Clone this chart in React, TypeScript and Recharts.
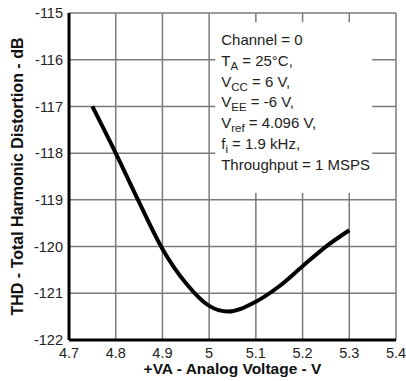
import React from 'react';
import {
  LineChart,
  Line,
  XAxis,
  YAxis,
  CartesianGrid,
  ReferenceArea,
} from 'recharts';

// +VA analog voltage (V) and measured THD (dB)
const voltage = [4.75, 4.8, 4.85, 4.9, 4.95, 5.0, 5.04, 5.1, 5.15, 5.2, 5.25, 5.3];
const thd = [-117.0, -118.0, -119.05, -120.05, -120.78, -121.27, -121.39, -121.18, -120.85, -120.42, -120.0, -119.65];

const xTicks = [4.7, 4.8, 4.9, 5.0, 5.1, 5.2, 5.3, 5.4];
const yTicks = [-122, -121, -120, -119, -118, -117, -116, -115];

// conditions box: [main text, subscript, rest]
const notes: [string, string, string][] = [
  ['Channel = 0', '', ''],
  ['T', 'A', ' = 25°C,'],
  ['V', 'CC', ' = 6 V,'],
  ['V', 'EE', ' = -6 V,'],
  ['V', 'ref', ' = 4.096 V,'],
  ['f', 'i', ' = 1.9 kHz,'],
  ['Throughput = 1 MSPS', '', ''],
];

const data = voltage.map((v, i) => ({ v, thd: thd[i] }));

const FONT = '"Liberation Sans", Arial, sans-serif';
const frame = { stroke: '#000', strokeWidth: 3 };

const NotesText = (props: any) => {
  const vb = props.viewBox || {};
  const x = vb.x + 6;
  const y0 = vb.y + 23;
  return (
    <text x={x} y={y0} fontSize={15} fill="#222" fontFamily={FONT}>
      {notes.map(([a, sub, b], i) => (
        <tspan key={i} x={x} y={y0 + i * 20.7}>
          {a}
          {sub && (
            <tspan fontSize={11.5} dy={4}>
              {sub}
            </tspan>
          )}
          {b && <tspan dy={sub ? -4 : 0}>{b}</tspan>}
        </tspan>
      ))}
    </text>
  );
};

const YLabel = (props: any) => {
  const vb = props.viewBox || {};
  const cx = 23;
  const cy = vb.y + vb.height / 2;
  return (
    <text
      x={cx}
      y={cy}
      transform={`rotate(-90, ${cx}, ${cy})`}
      textAnchor="middle"
      fontSize={16}
      fontWeight="bold"
      fill="#111"
      fontFamily={FONT}
    >
      THD - Total Harmonic Distortion - dB
    </text>
  );
};

export default function App() {
  return (
    <div style={{ width: 406, height: 381, background: '#fff', fontFamily: FONT }}>
      <style>{`body{margin:0}`}</style>
      <LineChart
        width={406}
        height={381}
        data={data}
        margin={{ top: 13, right: 10, bottom: 0, left: 0 }}
      >
        <CartesianGrid stroke="#7a7a7a" strokeWidth={1.5} />
        <XAxis
          dataKey="v"
          type="number"
          domain={[4.7, 5.4]}
          ticks={xTicks}
          height={41}
          tickLine={false}
          axisLine={frame}
          tickSize={0}
          tickMargin={7.5}
          tick={{ fill: '#222', fontSize: 14.5, fontFamily: FONT }}
          label={{
            value: '+VA - Analog Voltage - V',
            position: 'insideBottom',
            offset: 7,
            fill: '#111',
            fontSize: 15.5,
            fontWeight: 'bold',
            fontFamily: FONT,
          }}
        />
        <XAxis
          xAxisId="top"
          orientation="top"
          dataKey="v"
          type="number"
          domain={[4.7, 5.4]}
          height={0}
          tick={false}
          tickLine={false}
          axisLine={frame}
        />
        <YAxis
          type="number"
          domain={[-122, -115]}
          ticks={yTicks}
          width={69}
          tickLine={false}
          axisLine={frame}
          tickSize={0}
          tickMargin={6}
          tick={{ fill: '#222', fontSize: 14.5, fontFamily: FONT }}
          label={<YLabel />}
        />
        <YAxis
          yAxisId="right"
          orientation="right"
          type="number"
          domain={[-122, -115]}
          width={0}
          tick={false}
          tickLine={false}
          axisLine={frame}
        />
        <ReferenceArea
          x1={5.013}
          x2={5.349}
          y1={-118.85}
          y2={-115.2}
          fill="#fff"
          fillOpacity={1}
          stroke="none"
          label={<NotesText />}
        />
        <Line
          dataKey="thd"
          type="monotone"
          stroke="#000"
          strokeWidth={4}
          dot={false}
          isAnimationActive={false}
        />
      </LineChart>
    </div>
  );
}
